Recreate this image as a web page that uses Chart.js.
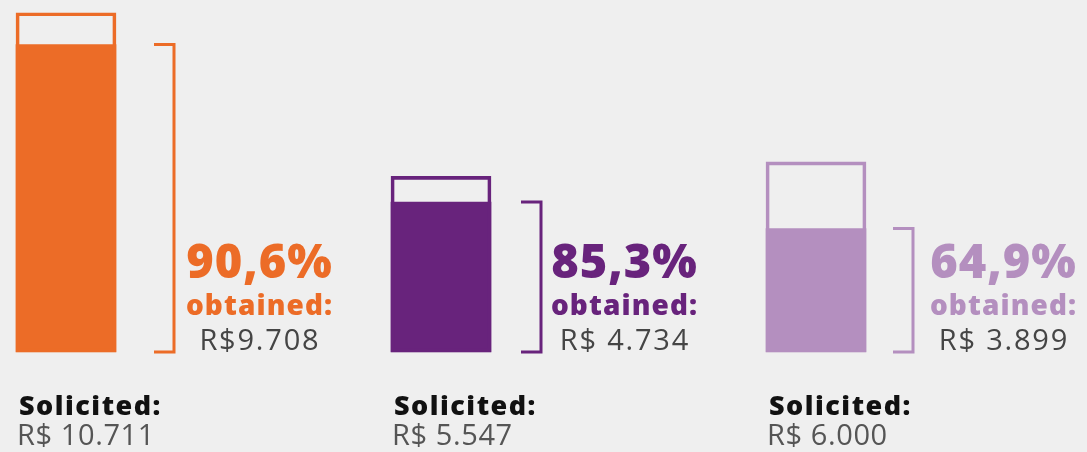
<!DOCTYPE html>
<html>
<head>
<meta charset="utf-8">
<script src="https://cdn.jsdelivr.net/npm/chart.js@4.4.0/dist/chart.umd.min.js"></script>
<style>
  html, body { margin: 0; padding: 0; background: #efefef; }
  #wrap { width: 1087px; height: 452px; position: relative; }
</style>
</head>
<body>
<div id="wrap"><canvas id="c" width="1087" height="452"></canvas></div>
<script>
// ---- data ----
const categories = ["A", "B", "C"];
const solicited = [10711, 5547, 6000];
const obtained = [9708, 4734, 3899];
const percentLabels = ["90,6%", "85,3%", "64,9%"];
const obtainedLabels = ["R$9.708", "R$ 4.734", "R$ 3.899"];
const solicitedLabels = ["R$ 10.711", "R$ 5.547", "R$ 6.000"];

// ---- styles ----
const colors = ["#ec6c27", "#68237c", "#b48fbf"];
const bracketOffset = [108, 100, 97];
const textOffset = [85, 83, 90];
const FONT = "'Open Sans', 'DejaVu Sans', sans-serif";

function txt(ctx, s, x, y, spacing) {
  ctx.letterSpacing = spacing + 'px';
  let dx = 0;
  if (ctx.textAlign === 'center') dx = spacing / 2;
  ctx.fillText(s, x + dx, y);
  ctx.letterSpacing = '0px';
}

const annotatePlugin = {
  id: 'annotate',
  afterDatasetsDraw(chart) {
    const ctx = chart.ctx;
    const xs = chart.scales.x, ys = chart.scales.y;
    ctx.save();
    categories.forEach((c, i) => {
      const cx = xs.getPixelForValue(i);
      const yTop = ys.getPixelForValue(obtained[i]);
      const yBot = ys.getPixelForValue(0);
      const bx = cx + bracketOffset[i];
      // bracket
      ctx.strokeStyle = colors[i];
      ctx.lineWidth = 3;
      ctx.lineCap = 'butt';
      ctx.beginPath();
      ctx.moveTo(bx - 20, yTop);
      ctx.lineTo(bx, yTop);
      ctx.lineTo(bx, yBot);
      ctx.lineTo(bx - 20, yBot);
      ctx.stroke();
      // labels right of bracket
      const tx = bx + textOffset[i];
      ctx.textAlign = 'center';
      ctx.textBaseline = 'alphabetic';
      ctx.fillStyle = colors[i];
      ctx.font = `800 47px ${FONT}`;
      txt(ctx, percentLabels[i], tx, 278, 1);
      ctx.font = `800 28px ${FONT}`;
      txt(ctx, 'obtained:', tx, 315, 1.1);
      ctx.fillStyle = '#454545';
      ctx.font = `400 29px ${FONT}`;
      txt(ctx, obtainedLabels[i], tx, 350, 1.8);
      // solicited labels under bar
      const lx = cx - 47;
      ctx.textAlign = 'left';
      ctx.fillStyle = '#111111';
      ctx.font = `800 27px ${FONT}`;
      txt(ctx, 'Solicited:', lx, 415, 1.5);
      ctx.fillStyle = '#555555';
      ctx.font = `400 29px ${FONT}`;
      txt(ctx, solicitedLabels[i], lx - 2, 445, 0.6);
    });
    ctx.restore();
  }
};

const bgPlugin = {
  id: 'bg',
  beforeDraw(chart) {
    const ctx = chart.ctx;
    ctx.save();
    ctx.fillStyle = '#efefef';
    ctx.fillRect(0, 0, chart.width, chart.height);
    ctx.restore();
  }
};

new Chart(document.getElementById('c'), {
  type: 'bar',
  data: {
    labels: categories,
    datasets: [
      {
        label: 'Obtained',
        data: obtained,
        backgroundColor: colors,
        borderWidth: 0,
        barThickness: 100,
        grouped: false,
        order: 2
      },
      {
        label: 'Solicited',
        data: solicited,
        backgroundColor: 'rgba(0,0,0,0)',
        borderColor: colors,
        borderWidth: 3,
        borderSkipped: false,
        barThickness: 100,
        grouped: false,
        order: 1
      }
    ]
  },
  options: {
    responsive: false,
    animation: false,
    clip: false,
    layout: { padding: { top: 2, bottom: 100, left: 66, right: 271 } },
    plugins: { legend: { display: false }, tooltip: { enabled: false } },
    scales: {
      x: { display: false, offset: false },
      y: { display: false, min: 0, max: 11050 }
    }
  },
  plugins: [bgPlugin, annotatePlugin]
});
</script>
</body>
</html>
